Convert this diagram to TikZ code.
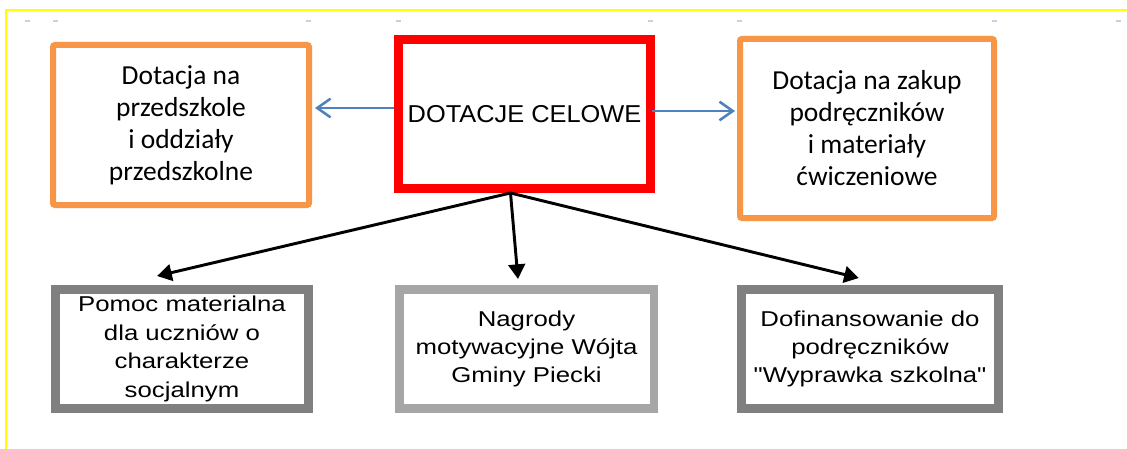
\documentclass[tikz,border=0pt]{standalone}
\usepackage{fontspec}
\usetikzlibrary{arrows.meta,calc}
\newfontfamily\calib{Carlito}
\newfontfamily\arialf[FakeStretch=1.04]{Liberation Sans}
\newfontfamily\arialw[FakeStretch=1.2]{Liberation Sans}
\definecolor{orng}{HTML}{F79646}
\definecolor{blu}{HTML}{4F81BD}
\definecolor{gryd}{HTML}{808080}
\definecolor{gryl}{HTML}{A6A6A6}
\definecolor{dashc}{HTML}{C8D0E2}
\definecolor{yel}{HTML}{FFFF00}
\begin{document}
\begin{tikzpicture}[x=0.75pt,y=-0.75pt,
  obox/.style={draw=orng, line width=4.5pt, rounded corners=1.5pt, inner sep=0pt,
    align=center, font=\calib\fontsize{20.6pt}{24pt}\selectfont},
  rbox/.style={draw=red, line width=6.75pt, inner sep=0pt, align=center,
    minimum width=189pt, minimum height=111.75pt, font=\arialf\fontsize{18.3pt}{22pt}\selectfont},
  gbox/.style={line width=6.4pt, inner sep=0pt, align=center, minimum height=89.6pt,
    font=\arialw\fontsize{16.1pt}{21.3pt}\selectfont},
  blarrow/.style={draw=blu, line width=1.9pt, -{Straight Barb[length=10pt,width=14pt]}},
  bkarrow/.style={draw=black, line width=2.2pt, -{Triangle[length=11pt,width=12.5pt]}},
]
\useasboundingbox (0,0) rectangle (1127,449);
\fill[white] (0,0) rectangle (1127,449);
\draw[yel, line width=1.5pt] (6,449) -- (6,10) -- (1127,10);
\foreach \x in {27,55,308,398,650,739,994,1118}
  \fill[dashc] (\x-2.5,20) rectangle (\x+2.5,22);

\node[obox, minimum width=192pt, minimum height=120pt] (lo) at (181,125)
  {Dotacja na\\przedszkole\\i oddziały\\przedszkolne};
\node[rbox] (red) at (524.5,114) {DOTACJE CELOWE};
\node[obox, minimum width=190.5pt, minimum height=134.25pt] (ro) at (867,128.5)
  {Dotacja na zakup\\podręczników\\i materiały\\ćwiczeniowe};

\node[gbox, draw=gryd, minimum width=190.1pt] (pl) at (182,349)
  {Pomoc materialna\\dla uczniów o\\charakterze\\socjalnym};
\node[gbox, draw=gryl, minimum width=190.9pt] (pm) at (526.5,349)
  {Nagrody\\motywacyjne Wójta\\Gminy Piecki};
\node[gbox, draw=gryd, minimum width=193.1pt] (pr) at (870,349)
  {Dofinansowanie do\\podręczników\\"Wyprawka szkolna"};

\coordinate (la) at ([yshift=4.5pt]red.west);
\coordinate (lb) at (la -| lo.east);
\draw[blarrow, shorten >=2.25pt] (la) -- (lb);
\coordinate (ra) at ([yshift=2.25pt,xshift=-2pt]red.east);
\coordinate (rb) at (ra -| ro.west);
\draw[blarrow, shorten >=1.5pt] (ra) -- (rb);

\coordinate (src) at ($(red.south)+(-14,0)$);
\draw[bkarrow] (src) -- ($(pl.north west)!0.405!(pl.north east)+(0,-9)$);
\draw[bkarrow] (src) -- ($(pm.north)+(-8.5,-6)$);
\draw[bkarrow] (src) -- ($(pr.north west)!0.458!(pr.north east)+(0,-7)$);
\end{tikzpicture}
\end{document}
